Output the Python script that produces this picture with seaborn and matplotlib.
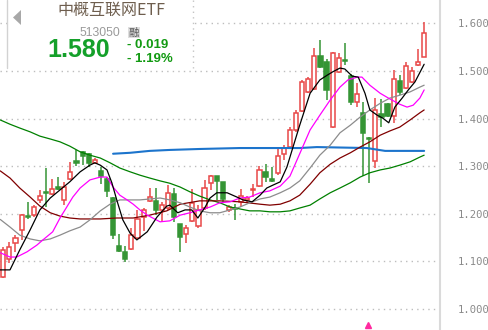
import matplotlib
matplotlib.use("Agg")
import matplotlib.pyplot as plt
from matplotlib.patches import Rectangle, Polygon
import numpy as np
import pandas as pd
import seaborn as sns

sns.set_theme(style="white")
plt.rcParams['font.family'] = ['Noto Sans CJK SC', 'DejaVu Sans']

# ---------------- data ----------------
opens = [1.067,1.105,1.138,1.166,1.195,1.197,1.229,1.246,1.241,1.256,
         1.229,1.273,1.311,1.330,1.325,1.307,1.290,1.273,1.233,1.132,
         1.120,1.126,1.149,1.193,1.227,1.227,1.208,1.212,1.241,1.178,
         1.157,1.185,1.174,1.212,1.265,1.279,1.267,1.208,1.212,1.225,
         1.229,1.250,1.258,1.288,1.273,1.286,1.325,1.340,1.376,1.416,
         1.456,1.462,1.531,1.519,1.382,1.498,1.523,1.489,1.435,1.412,
         1.359,1.311,1.409,1.430,1.405,1.479,1.464,1.477,1.512,1.529]
closes = [1.124,1.130,1.149,1.197,1.193,1.214,1.237,1.243,1.252,1.252,
          1.256,1.288,1.307,1.321,1.307,1.313,1.279,1.248,1.155,1.122,
          1.105,1.155,1.189,1.208,1.235,1.208,1.218,1.244,1.193,1.151,
          1.170,1.223,1.208,1.254,1.279,1.269,1.231,1.214,1.210,1.237,
          1.233,1.252,1.292,1.277,1.269,1.321,1.338,1.376,1.412,1.477,
          1.483,1.531,1.508,1.460,1.538,1.527,1.521,1.435,1.451,1.370,
          1.357,1.418,1.403,1.405,1.483,1.456,1.510,1.500,1.519,1.580]
highs = [1.130,1.140,1.155,1.199,1.225,1.218,1.250,1.296,1.273,1.277,
         1.267,1.309,1.334,1.332,1.328,1.317,1.298,1.277,1.235,1.157,
         1.132,1.170,1.208,1.212,1.254,1.254,1.225,1.260,1.254,1.178,
         1.176,1.252,1.218,1.271,1.281,1.279,1.267,1.218,1.220,1.252,
         1.237,1.262,1.300,1.304,1.298,1.340,1.344,1.382,1.418,1.481,
         1.487,1.548,1.565,1.525,1.540,1.538,1.559,1.494,1.475,1.435,
         1.361,1.443,1.441,1.432,1.502,1.491,1.519,1.508,1.546,1.603]
lows = [1.065,1.097,1.120,1.145,1.189,1.193,1.223,1.214,1.239,1.250,
        1.218,1.271,1.300,1.302,1.298,1.304,1.262,1.235,1.147,1.120,
        1.099,1.124,1.147,1.164,1.225,1.197,1.183,1.208,1.183,1.120,
        1.138,1.183,1.170,1.208,1.250,1.229,1.223,1.204,1.187,1.214,
        1.223,1.235,1.256,1.267,1.267,1.281,1.313,1.336,1.372,1.414,
        1.454,1.460,1.506,1.439,1.380,1.496,1.512,1.428,1.424,1.279,
        1.265,1.296,1.382,1.403,1.391,1.449,1.462,1.475,1.510,1.529]

ma5_x = [-0.5,1.1,2.7,4.4,6.0,7.7,9.3,10.9,12.6,14.2,15.0,15.9,17.0,17.8,18.6,19.6,20.8,21.9,23.6,25.2,
         26.8,27.3,28.6,29.8,30.9,31.9,33.1,33.9,35.0,36.7,38.3,39.3,40.8,42.1,43.2,44.2,45.4,46.5,47.5,48.6,
         50.3,51.9,53.1,54.0,55.2,56.0,57.2,58.2,59.3,60.1,61.3,62.2,63.2,64.2,65.4,66.4,67.5,69.0]
ma5_y = [1.082,1.082,1.124,1.166,1.208,1.233,1.250,1.267,1.288,1.302,1.307,1.302,1.292,1.265,1.229,1.187,1.159,1.145,1.162,1.193,
         1.216,1.218,1.202,1.208,1.208,1.191,1.214,1.233,1.244,1.244,1.235,1.229,1.225,1.239,1.254,1.260,1.267,1.298,1.340,1.386,
         1.453,1.481,1.491,1.498,1.506,1.504,1.489,1.487,1.453,1.418,1.407,1.401,1.391,1.424,1.443,1.460,1.477,1.514]

ma10_x = [-0.5,1.1,2.2,3.9,5.5,6.5,8.1,9.3,10.4,11.4,12.6,14.2,15.9,17.0,18.0,19.1,20.3,21.3,22.4,23.6,
          24.5,25.7,27.3,29.0,30.6,32.2,33.9,35.5,37.2,38.8,40.4,42.1,43.7,45.4,47.0,48.6,50.3,51.9,53.6,55.2,
          56.5,58.0,58.8,60.1,61.8,63.4,65.0,66.2,67.2,68.3,69.0]
ma10_y = [1.118,1.109,1.109,1.120,1.134,1.145,1.162,1.191,1.214,1.235,1.254,1.271,1.277,1.277,1.256,1.239,1.229,1.220,1.208,1.197,
          1.191,1.183,1.185,1.197,1.202,1.208,1.214,1.223,1.225,1.233,1.235,1.244,1.248,1.258,1.279,1.326,1.376,1.407,1.439,1.466,
          1.481,1.487,1.487,1.470,1.453,1.441,1.430,1.424,1.428,1.443,1.460]

ma20_x = [-0.5,1.1,2.7,4.4,6.0,7.7,9.3,10.9,12.6,14.2,15.9,17.5,19.1,22.4,25.7,27.3,29.0,30.6,32.2,33.9,
          35.5,37.2,38.8,40.4,42.1,43.7,45.4,47.0,48.6,50.3,51.9,53.6,55.2,56.9,58.5,60.1,61.8,63.4,65.0,66.7,
          68.3,69.0]
ma20_y = [1.188,1.172,1.155,1.147,1.143,1.147,1.155,1.164,1.172,1.187,1.206,1.220,1.229,1.229,1.233,1.229,1.223,1.214,1.206,1.202,
          1.202,1.208,1.214,1.223,1.231,1.235,1.244,1.254,1.269,1.296,1.323,1.344,1.370,1.386,1.403,1.418,1.432,1.443,1.449,1.456,
          1.466,1.470]

ma30_x = [-0.5,1.1,2.7,4.4,6.0,7.7,9.3,10.9,12.6,15.9,18.6,21.3,24.0,26.8,29.0,32.2,35.5,38.8,42.1,43.7,
          45.4,47.0,48.6,50.3,51.9,53.6,55.2,56.9,58.5,60.1,61.8,63.4,65.0,66.7,68.3,69.0]
ma30_y = [1.290,1.275,1.254,1.235,1.216,1.202,1.195,1.191,1.189,1.189,1.191,1.191,1.197,1.206,1.220,1.227,1.227,1.225,1.220,1.218,
          1.220,1.227,1.239,1.262,1.286,1.304,1.317,1.328,1.340,1.351,1.365,1.374,1.382,1.397,1.412,1.418]

ma60_x = [-0.5,1.1,2.7,4.4,6.0,7.7,9.3,10.9,12.6,14.2,15.9,17.5,19.1,20.8,22.4,24.0,25.7,27.3,29.0,30.6,
          32.2,33.9,35.5,37.2,38.8,40.4,42.1,43.7,45.4,47.0,48.6,50.3,51.9,53.6,55.2,56.9,58.5,60.1,61.8,63.4,
          65.0,66.7,68.3,69.0]
ma60_y = [1.397,1.388,1.380,1.372,1.363,1.357,1.351,1.342,1.330,1.323,1.317,1.307,1.296,1.288,1.281,1.275,1.269,1.264,1.256,1.246,
          1.237,1.229,1.223,1.214,1.210,1.206,1.206,1.204,1.204,1.206,1.212,1.218,1.231,1.244,1.254,1.265,1.277,1.286,1.292,1.296,
          1.302,1.309,1.319,1.323]

ma120_x = [18.0,20.8,24.0,27.3,32.2,38.8,48.6,51.4,59.6,62.6,69.0]
ma120_y = [1.326,1.328,1.332,1.334,1.336,1.338,1.338,1.340,1.338,1.332,1.332]

y_ticks = [1.0, 1.1, 1.2, 1.3, 1.4, 1.5, 1.6]
title = "中概互联网ETF"
code = "513050"
price = "1.580"
change = "- 0.019"
change_pct = "- 1.19%"

# ---------------- figure ----------------
W, H = 489, 330
fig = plt.figure(figsize=(W / 100, H / 100), dpi=100)
fig.patch.set_facecolor("white")
ax = fig.add_axes([0, 0, 440 / W, 1])
ax.set_facecolor("white")
ax.set_xlim(-0.54, 71.6)
ax.set_ylim(0.9557, 1.649)

RED = "#e84848"
GREEN = "#359535"

df = pd.DataFrame({"i": np.arange(len(opens)), "o": opens, "c": closes, "h": highs, "l": lows})
df["up"] = df["c"] >= df["o"]
df["col"] = np.where(df["up"], RED, GREEN)
df["bottom"] = df[["o", "c"]].min(axis=1)
df["height"] = (df["c"] - df["o"]).abs().clip(lower=0.0016)

ax.vlines(df["i"], df["l"], df["h"], colors=df["col"], linewidth=1.1, zorder=2)
ax.bar(df["i"], df["height"], bottom=df["bottom"], width=0.68,
       color=np.where(df["up"], "white", GREEN), edgecolor=df["col"],
       linewidth=1.1, zorder=3)

line_specs = [
    (ma120_x, ma120_y, "#1c74cc", 1.5),
    (ma60_x, ma60_y, "#008000", 0.9),
    (ma30_x, ma30_y, "#800000", 0.9),
    (ma20_x, ma20_y, "#8c8c8c", 0.9),
    (ma10_x, ma10_y, "#ff00ff", 0.9),
    (ma5_x, ma5_y, "#000000", 0.9),
]
for xs, ys, col, lw in line_specs:
    sns.lineplot(x=xs, y=ys, color=col, linewidth=lw, ax=ax, sort=False,
                 estimator=None, zorder=4)

ax.plot([59.8], [0.966], marker="^", color="#ff2aa0", markersize=5, zorder=5)

# axes styling
ax.set_xticks([])
ax.set_yticks(y_ticks)
ax.set_yticklabels([f"{v:.3f}" for v in y_ticks])
ax.yaxis.tick_right()
ax.tick_params(axis="y", length=0, pad=13, labelsize=7.6, labelcolor="#8a8a8a")
for lab in ax.get_yticklabels():
    lab.set_fontfamily("DejaVu Sans Mono")
ax.set_xlabel("")
ax.set_ylabel("")
for name, sp in ax.spines.items():
    sp.set_visible(name == "right")
ax.spines["right"].set_color("#dadada")
ax.spines["right"].set_linewidth(1.5)
ax.grid(axis="y", linestyle=(0, (1, 3)), color="#bdbdbd", linewidth=1.0)
ax.grid(axis="x", visible=False)
ax.set_axisbelow(True)

# ---------------- info overlay ----------------
ov = fig.add_axes([0, 0, 1, 1])
ov.set_xlim(0, W)
ov.set_ylim(H, 0)
ov.axis("off")
ov.patch.set_alpha(0)
ov.add_patch(Rectangle((7, 0), 186, 68, facecolor="white", edgecolor="none", zorder=1))
ov.plot([7, 7], [0, 68], color="#d2d2d2", linewidth=1.0, zorder=2)
ov.plot([193, 193], [0, 68], color="#c4c4c4", linewidth=1.0, linestyle=(0, (1, 3)), zorder=2)
ov.add_patch(Polygon([[21, 10], [21, 25], [13, 17.5]], closed=True, facecolor="#a8a8a8",
                     edgecolor="none", zorder=2))
ov.text(57, 10.5, title, fontsize=11.5, color="#6e5e4e", va="center", ha="left", zorder=3)
ov.text(79, 32.5, code, fontsize=8.8, color="#9a9a9a", va="center", ha="left",
        family=["Liberation Sans", "DejaVu Sans"], zorder=3)
ov.add_patch(Rectangle((128, 27), 12, 11, facecolor="#dedede", edgecolor="none", zorder=2))
ov.text(134, 32.5, "融", fontsize=7.5, color="#555555", va="center", ha="center", zorder=3)
ov.text(47.5, 57, price, fontsize=18, color="#14a02a", fontweight="bold", va="baseline",
        ha="left", family=["Liberation Sans", "DejaVu Sans"], zorder=3)
ov.text(127, 47.5, change, fontsize=9.5, color="#129a12", fontweight="bold", va="baseline",
        ha="left", family=["Liberation Sans", "DejaVu Sans"], zorder=3)
ov.text(127, 62, change_pct, fontsize=9.5, color="#129a12", fontweight="bold", va="baseline",
        ha="left", family=["Liberation Sans", "DejaVu Sans"], zorder=3)

fig.savefig("out.png", dpi=100, facecolor="white")
